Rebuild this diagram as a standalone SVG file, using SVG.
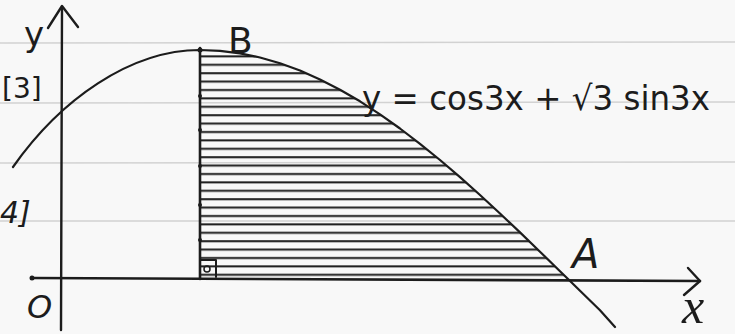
<svg xmlns="http://www.w3.org/2000/svg" width="735" height="334" viewBox="0 0 735 334">
<style>
.ink{fill:none;stroke:#1c1c1c;stroke-linecap:round;stroke-linejoin:round}
.rule{stroke:#d2d2d2;stroke-width:1.5}
.hand{font-family:"DejaVu Sans","Liberation Sans",sans-serif;fill:#1c1c1c}
</style>
<defs>
<pattern id="hatch" patternUnits="userSpaceOnUse" x="0" y="2" width="20" height="8.4">
<line x1="0" y1="4" x2="20" y2="4" stroke="#1c1c1c" stroke-width="2"/>
</pattern>
</defs>
<rect width="735" height="334" fill="#f8f8f8"/>
<g id="rules">
<line class="rule" x1="0" y1="43" x2="735" y2="42"/>
<line class="rule" x1="0" y1="103" x2="735" y2="102"/>
<line class="rule" x1="0" y1="163" x2="735" y2="162"/>
<line class="rule" x1="0" y1="221" x2="735" y2="221"/>
</g>
<g id="shaded-region">
<path d="M200,50 L220,50.8 L240,53.3 L260,57.5 L280,63.2 L300,70.5 L320,79.4 L340,89.7 L360,101.3 L380,114.3 L400,128.5 L420,143.8 L440,160 L460,177.1 L480,195 L500,213.5 L520,232.4 L540,251.7 L560,271.2 L568,279 L200,279 Z" fill="url(#hatch)"/>
<line class="ink" x1="200" y1="48" x2="200" y2="279" stroke-width="2.6"/>
<g fill="#1c1c1c">
<circle cx="200" cy="50" r="2.5"/><circle cx="200" cy="96" r="2"/><circle cx="200" cy="130" r="2"/><circle cx="200" cy="166" r="2"/><circle cx="200" cy="205" r="2"/><circle cx="200" cy="240" r="2"/>
</g>
<path class="ink" d="M201,260 L216,260 L216,277" stroke-width="2"/>
<circle cx="207" cy="269" r="3" fill="none" stroke="#1c1c1c" stroke-width="1.5"/>
</g>
<g id="axes">
<line class="ink" x1="33" y1="278" x2="700" y2="281" stroke-width="2.6"/>
<circle cx="32" cy="278" r="2.5" fill="#1c1c1c"/>
<path class="ink" d="M688,268 L700,281 L684,295" stroke-width="2.4"/>
<line class="ink" x1="62" y1="7" x2="61" y2="330" stroke-width="2.4"/>
<path class="ink" d="M48,28 L62,6 L78,27" stroke-width="2.4"/>
</g>
<g id="curve">
<path class="ink" stroke-width="2.2" d="M13,167 C60,100 130,50 200,50 L220,50.8 L240,53.3 L260,57.5 L280,63.2 L300,70.5 L320,79.4 L340,89.7 L360,101.3 L380,114.3 L400,128.5 L420,143.8 L440,160 L460,177.1 L480,195 L500,213.5 L520,232.4 L540,251.7 L560,271.2 L568,279 L580,290.7 L600,310.2 L615,327"/>
</g>
<g id="labels">
<text class="hand" x="24" y="46" font-size="34">y</text>
<text class="hand" x="2" y="98" font-size="28">[3]</text>
<text class="hand" x="0" y="223" font-size="30" font-style="italic">4]</text>
<text class="hand" x="27" y="318" font-size="32" font-style="italic">O</text>
<text class="hand" x="228" y="53" font-size="36">B</text>
<text class="hand" x="572" y="268" font-size="40" font-style="italic">A</text>
<text x="682" y="323" font-size="50" font-style="italic" font-family="Liberation Serif,serif" fill="#1c1c1c">x</text>
<text class="hand" x="362" y="110" font-size="34" textLength="348" lengthAdjust="spacingAndGlyphs">y = cos3x + √3 sin3x</text>
</g>
</svg>
